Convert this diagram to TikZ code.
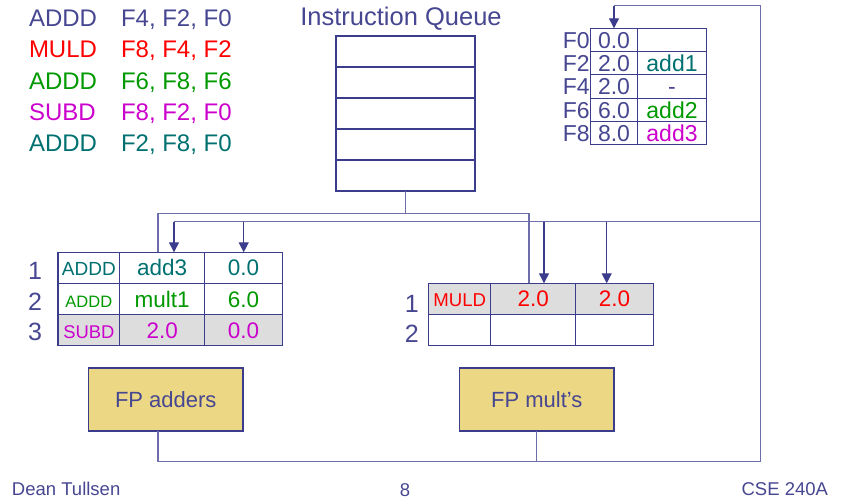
\documentclass[tikz,border=0pt]{standalone}
\usepackage{fontspec}
\setmainfont{Liberation Sans}
\usetikzlibrary{arrows.meta}
\definecolor{dblue}{RGB}{70,70,145}
\definecolor{wirec}{RGB}{110,110,172}
\definecolor{border}{RGB}{60,60,140}
\definecolor{ired}{RGB}{255,0,0}
\definecolor{igreen}{RGB}{0,153,0}
\definecolor{imag}{RGB}{204,0,204}
\definecolor{iteal}{RGB}{0,112,112}
\definecolor{rsgray}{RGB}{221,221,221}
\definecolor{fuyellow}{RGB}{236,216,132}
\newcommand{\fsz}[1]{\fontsize{#1}{#1}\selectfont}
\begin{document}
\begin{tikzpicture}[x=1pt,y=-1pt,
  every node/.style={inner sep=0pt,outer sep=0pt},
  instr/.style={anchor=base west,font=\fsz{24}},
  cell/.style={draw=border,line width=1.2pt,anchor=north west,minimum height=31pt,font=\fsz{22.5},fill=white,text height=16pt,text depth=0pt},
  rcell/.style={draw=border,line width=1.2pt,anchor=north west,minimum height=23.3pt,font=\fsz{23},fill=white,text=dblue,text height=16.5pt,text depth=0pt},
  qcell/.style={draw=border,line width=1.2pt,anchor=north west,minimum height=31pt,minimum width=139pt,fill=white},
  lbl/.style={font=\fsz{25},text=dblue},
  fu/.style={draw=border,line width=1.2pt,fill=fuyellow,minimum width=154.5pt,minimum height=63pt,font=\fsz{22},text=dblue},
  wire/.style={draw=wirec,line width=1.3pt},
  arr/.style={draw=border,line width=1.2pt,-{Triangle[width=10pt,length=10pt]}},
  foot/.style={anchor=base,font=\fsz{18.5},text=dblue}
]
\useasboundingbox (0,0) rectangle (848,500);

% instruction list
\node[instr,text=dblue] (i1a) at (29,26.7) {ADDD};
\node[instr,text=dblue] (i1b) at (121,26.7) {F4, F2, F0};
\node[instr,text=ired] (i2a) at (29,58) {MULD};
\node[instr,text=ired] (i2b) at (121,58) {F8, F4, F2};
\node[instr,text=igreen] (i3a) at (29,89.2) {ADDD};
\node[instr,text=igreen] (i3b) at (121,89.2) {F6, F8, F6};
\node[instr,text=imag] (i4a) at (29,120.5) {SUBD};
\node[instr,text=imag] (i4b) at (121,120.5) {F8, F2, F0};
\node[instr,text=iteal] (i5a) at (29,151.7) {ADDD};
\node[instr,text=iteal] (i5b) at (121,151.7) {F2, F8, F0};

% instruction queue
\node[anchor=base,font=\fsz{25.5},text=dblue] (iqt) at (401,26) {Instruction Queue};
\node[qcell] (q1) at (336,36) {};
\node[qcell] (q2) at (336,67) {};
\node[qcell] (q3) at (336,98) {};
\node[qcell] (q4) at (336,129) {};
\node[qcell] (q5) at (336,160) {};

% register file
\node[rcell,minimum width=46.6pt] (r0v) at (590.7,28.3) {0.0};
\node[rcell,minimum width=69.4pt] (r0t) at (637.3,28.3) {};
\node[rcell,minimum width=46.6pt] (r2v) at (590.7,51.6) {2.0};
\node[rcell,minimum width=69.4pt,text=iteal] (r2t) at (637.3,51.6) {add1};
\node[rcell,minimum width=46.6pt] (r4v) at (590.7,74.9) {2.0};
\node[rcell,minimum width=69.4pt] (r4t) at (637.3,74.9) {-};
\node[rcell,minimum width=46.6pt] (r6v) at (590.7,98.2) {6.0};
\node[rcell,minimum width=69.4pt,text=igreen] (r6t) at (637.3,98.2) {add2};
\node[rcell,minimum width=46.6pt] (r8v) at (590.7,121.5) {8.0};
\node[rcell,minimum width=69.4pt,text=imag] (r8t) at (637.3,121.5) {add3};
\node[anchor=east,font=\fsz{23},text=dblue,text height=16.5pt,text depth=0pt] (f0) at ([xshift=-1pt]r0v.west) {F0};
\node[anchor=east,font=\fsz{23},text=dblue,text height=16.5pt,text depth=0pt] (f2) at ([xshift=-1pt]r2v.west) {F2};
\node[anchor=east,font=\fsz{23},text=dblue,text height=16.5pt,text depth=0pt] (f4) at ([xshift=-1pt]r4v.west) {F4};
\node[anchor=east,font=\fsz{23},text=dblue,text height=16.5pt,text depth=0pt] (f6) at ([xshift=-1pt]r6v.west) {F6};
\node[anchor=east,font=\fsz{23},text=dblue,text height=16.5pt,text depth=0pt] (f8) at ([xshift=-1pt]r8v.west) {F8};

% adder reservation stations
\node[cell,minimum width=61.7pt,text=iteal,font=\fsz{19}] (a1o) at (58,252.3) {ADDD};
\node[cell,minimum width=85pt,text=iteal] (a1j) at (119.7,252.3) {add3};
\node[cell,minimum width=77.6pt,text=iteal] (a1k) at (204.7,252.3) {0.0};
\node[cell,minimum width=61.7pt,text=igreen,font=\fsz{16.5}] (a2o) at (58,283.5) {ADDD};
\node[cell,minimum width=85pt,text=igreen] (a2j) at (119.7,283.5) {mult1};
\node[cell,minimum width=77.6pt,text=igreen] (a2k) at (204.7,283.5) {6.0};
\node[cell,minimum width=61.7pt,text=imag,fill=rsgray,font=\fsz{18.4}] (a3o) at (58,314.7) {SUBD};
\node[cell,minimum width=85pt,text=imag,fill=rsgray] (a3j) at (119.7,314.7) {2.0};
\node[cell,minimum width=77.6pt,text=imag,fill=rsgray] (a3k) at (204.7,314.7) {0.0};
\node[lbl] (al1) at (35,271) {1};
\node[lbl] (al2) at (35,302) {2};
\node[lbl] (al3) at (35,332) {3};

% multiplier reservation stations
\node[cell,minimum width=62pt,text=ired,fill=rsgray,font=\fsz{18.6}] (m1o) at (428.7,283.3) {MULD};
\node[cell,minimum width=85pt,text=ired,fill=rsgray] (m1j) at (490.7,283.3) {2.0};
\node[cell,minimum width=77.6pt,text=ired,fill=rsgray] (m1k) at (575.7,283.3) {2.0};
\node[cell,minimum width=62pt] (m2o) at (428.7,314.5) {};
\node[cell,minimum width=85pt] (m2j) at (490.7,314.5) {};
\node[cell,minimum width=77.6pt] (m2k) at (575.7,314.5) {};
\node[lbl] (ml1) at (411.7,304) {1};
\node[lbl] (ml2) at (411.7,334) {2};

% functional units
\node[fu] (fa) at (165.75,399.5) {FP adders};
\node[fu] (fm) at (536.75,399.5) {FP mult’s};

% issue bus
\coordinate (ibL) at (158,213.7);
\coordinate (ibR) at (529,213.7);
\draw[wire] (q5.south) -- (q5.south |- ibL);
\draw[wire] (ibL |- a1o.north) -- (ibL) -- (ibR) -- (ibR |- m1o.north);

% common data bus
\coordinate (cdbL) at (174,221.7);
\coordinate (cA2) at (243.7,221.7);
\coordinate (cM1) at (544,221.7);
\coordinate (cM2) at (606.7,221.7);
\coordinate (cdbR) at (760.7,221.7);
\coordinate (topR) at (760.7,5.7);
\coordinate (botR) at (760.7,461.5);
\coordinate (botL) at (158,461.5);
\draw[wire] (cdbL) -- (cdbR);
\draw[wire] (fa.south -| botL) -- (botL) -- (botR) -- (topR) -- (topR -| r0v.north);
\draw[wire] (fm.south) -- (fm.south |- botL);
\draw[arr] (topR -| r0v.north) -- (r0v.north);
\draw[arr] (cdbL) -- (cdbL |- a1o.north);
\draw[arr] (cA2) -- (cA2 |- a1o.north);
\draw[arr] (cM1) -- (cM1 |- m1o.north);
\draw[arr] (cM2) -- (cM2 |- m1o.north);

% footer
\node[foot,anchor=base west] (ft1) at (12,495) {Dean Tullsen};
\node[foot] (ft2) at (405,496.5) {8};
\node[foot,anchor=base east] (ft3) at (828,495) {CSE 240A};
\end{tikzpicture}
\end{document}
